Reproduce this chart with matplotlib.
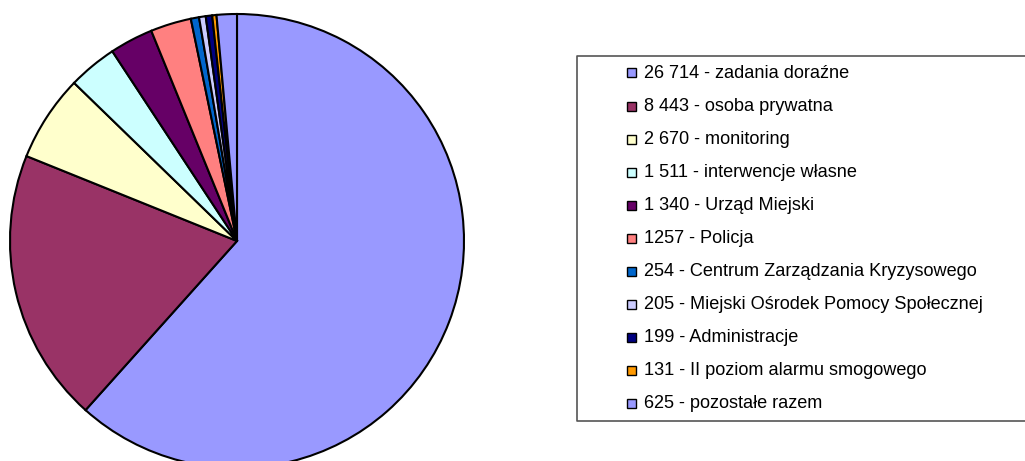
import numpy as np
import matplotlib
matplotlib.use('Agg')
import matplotlib.pyplot as plt
from matplotlib.patches import Rectangle

plt.rcParams['font.family'] = ['Liberation Sans', 'DejaVu Sans']

values = [26714, 8443, 2670, 1511, 1340, 1257, 254, 205, 199, 131, 625]
labels = ['26 714 - zadania doraźne', '8 443 - osoba prywatna', '2 670 - monitoring',
          '1 511 - interwencje własne', '1 340 - Urząd Miejski', '1257 - Policja',
          '254 - Centrum Zarządzania Kryzysowego', '205 - Miejski Ośrodek Pomocy Społecznej',
          '199 - Administracje', '131 - II poziom alarmu smogowego', '625 - pozostałe razem']
colors = ['#9999FF', '#993366', '#FFFFCC', '#CCFFFF', '#660066', '#FF8080',
          '#0066CC', '#CCCCFF', '#000080', '#FF9900', '#9999FF']

W, H = 1025, 461
fig = plt.figure(figsize=(W / 100, H / 100), dpi=100)

# pie: centre (237, 241) px, radius 227 px
cx, cy, r = 237, 241, 227
ax = fig.add_axes([(cx - r) / W, (H - cy - r) / H, 2 * r / W, 2 * r / H])
wedges, _ = ax.pie(values, colors=colors, startangle=90, counterclock=False,
                   wedgeprops=dict(edgecolor='black', linewidth=1.5))
for w in wedges:
    w.set_clip_on(False)
ax.set_xlim(-1, 1)
ax.set_ylim(-1, 1)
ax.set_aspect('equal')
ax.axis('off')

# legend box drawn in pixel coordinates
lax = fig.add_axes([0, 0, 1, 1])
lax.set_xlim(0, W)
lax.set_ylim(H, 0)
lax.axis('off')
lax.plot([W, 577, 577, W], [56.5, 56.5, 420.5, 420.5], color='#555555', lw=1.2)

y0, dy = 73, 33
for i, (lab, col) in enumerate(zip(labels, colors)):
    y = y0 + i * dy
    lax.add_patch(Rectangle((627, y - 4.5), 9, 9, facecolor=col, edgecolor='black', lw=1.0))
    lax.text(644, y, lab, fontsize=13.1, va='center', ha='left', color='black')

fig.savefig('out.png', dpi=100)
